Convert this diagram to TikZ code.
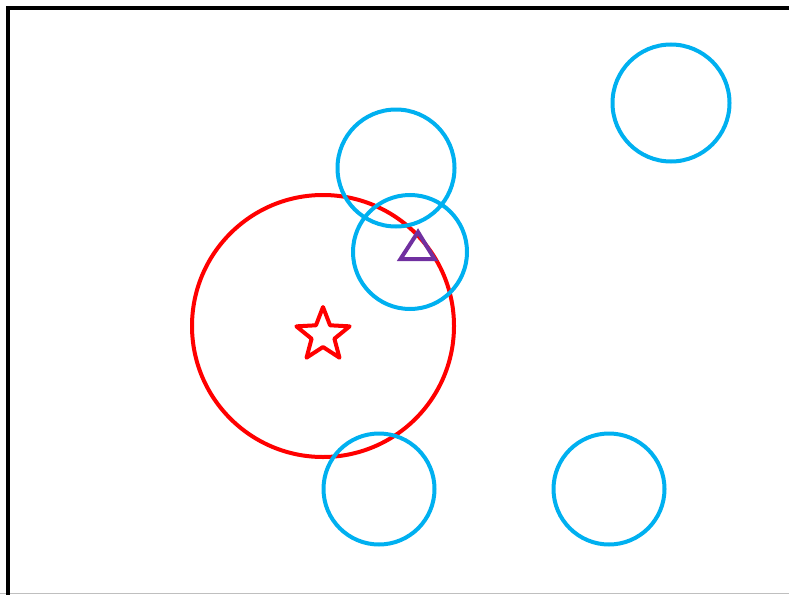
\documentclass[tikz,border=0pt]{standalone}
\usepackage{xcolor}
\definecolor{skyblue}{HTML}{00B0F0}
\definecolor{plum}{HTML}{7030A0}
\begin{document}
\begin{tikzpicture}[x=1pt, y=-1pt, line width=4pt]
  \useasboundingbox (0, 0) rectangle (789, 594);
  \draw[line width=1pt, gray!50] (0, 593.5) -- (789, 593.5);
  \draw[line width=4.5pt, line cap=rect] (8, 594) -- (8, 8) -- (789, 8);
  \draw[red] (323, 326) circle (131);
  \draw[skyblue] (396, 168) circle (58.5);
  \draw[skyblue] (410, 252) circle (57);
  \draw[skyblue] (671, 103) circle (58.5);
  \draw[skyblue] (379, 489) circle (55.5);
  \draw[skyblue] (609, 489) circle (55.5);
  \draw[red, line join=round] plot[samples at={0,...,10}, variable=\k]
    ({323 + (mod(\k,2)==0 ? 28 : 12) * cos(90 + 36*\k)},
     {335 - (mod(\k,2)==0 ? 28 : 12) * sin(90 + 36*\k)}) -- cycle;
  \draw[plum] (418, 232) -- (434.5, 259) -- (400.5, 259) -- cycle;
\end{tikzpicture}
\end{document}
